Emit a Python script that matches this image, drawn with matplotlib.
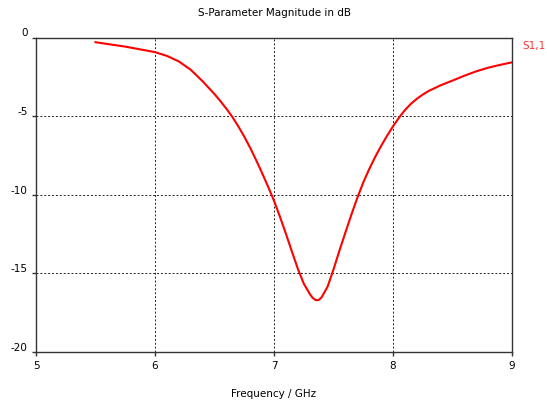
import numpy as np
import matplotlib
matplotlib.use('Agg')
import matplotlib.pyplot as plt

plt.rcParams['axes.unicode_minus'] = False
plt.rcParams['font.family'] = 'DejaVu Sans'

# S1,1 magnitude (dB)
freq_ghz = [5.5, 5.75, 6.0, 6.1, 6.2, 6.3, 6.4, 6.5, 6.55, 6.6, 6.65, 6.7,
            6.75, 6.8, 6.85, 6.9, 6.95, 7.0, 7.05, 7.1, 7.15, 7.2, 7.25,
            7.3, 7.325, 7.35, 7.375, 7.4, 7.45, 7.5, 7.55, 7.6, 7.65, 7.7,
            7.75, 7.8, 7.85, 7.9, 7.95, 8.0, 8.05, 8.1, 8.15, 8.2, 8.25,
            8.3, 8.4, 8.5, 8.6, 8.7, 8.8, 8.9, 9.0]
s11_db = [-0.3, -0.58, -0.93, -1.17, -1.52, -2.05, -2.78, -3.6, -4.05, -4.53,
          -5.05, -5.65, -6.3, -7.02, -7.8, -8.62, -9.48, -10.38, -11.4,
          -12.48, -13.6, -14.7, -15.65, -16.3, -16.56, -16.7, -16.7, -16.52,
          -15.85, -14.75, -13.55, -12.4, -11.27, -10.2, -9.22, -8.37, -7.6,
          -6.9, -6.25, -5.65, -5.1, -4.62, -4.22, -3.9, -3.63, -3.4, -3.04,
          -2.74, -2.43, -2.15, -1.92, -1.74, -1.58]
x_ticks = [5, 6, 7, 8, 9]
y_ticks = [0, -5, -10, -15, -20]

fig = plt.figure(figsize=(5.47, 4.02), dpi=100)
ax = fig.add_axes([36 / 547, 1 - 353 / 402, 476 / 547, 314.5 / 402])

ax.plot(freq_ghz, s11_db, color='red', linewidth=1.5, solid_joinstyle='round')
ax.set_xlim(5, 9)
ax.set_ylim(-20, 0)
ax.set_xticks(x_ticks)
ax.set_yticks(y_ticks)

ax.grid(True, color='#222222', linestyle=(0, (2, 2)), linewidth=0.7)
for s in ax.spines.values():
    s.set_color('#333333')
    s.set_linewidth(1.0)
ax.tick_params(length=3, width=1, color='#333333', labelsize=7.5, pad=3)
for lab in ax.get_yticklabels():
    lab.set_verticalalignment('bottom')

ax.set_title('S-Parameter Magnitude in dB', fontsize=7.5, pad=16)
ax.set_xlabel('Frequency / GHz', fontsize=7.5, labelpad=13)
ax.text(1.022, 0.975, 'S1,1', transform=ax.transAxes, color='#ff3333',
        fontsize=7.5, ha='left', va='center')

fig.savefig('out.png', dpi=100)
